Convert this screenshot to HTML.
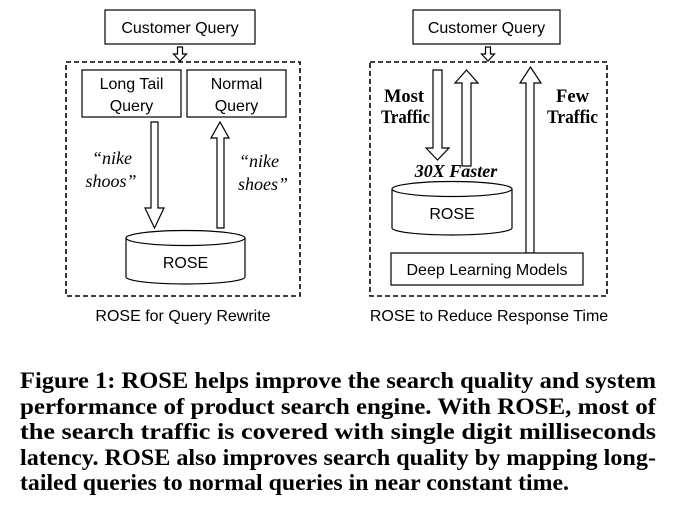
<!DOCTYPE html>
<html><head><meta charset="utf-8"><style>
html,body{margin:0;padding:0;background:#fff;}
svg{display:block;}
</style></head><body>
<svg width="684" height="521" viewBox="0 0 684 521" xmlns="http://www.w3.org/2000/svg">
<g fill="#fff" stroke="#000" stroke-width="1.2">
<rect x="105" y="10" width="150" height="34"/>
<path d="M177.5 47 h5 v7 h4 l-6.5 7 l-6.5 -7 h4 z"/>
<rect x="66" y="62" width="234" height="234" stroke-dasharray="5,3" stroke-width="1.6" fill="none"/>
<rect x="82" y="70" width="99" height="47"/>
<rect x="187" y="70" width="99" height="47"/>
<path d="M151 122 h7 v86 h6 l-9.5 20 l-9.5 -20 h6 z"/>
<path d="M217 228 h7 v-90 h5 l-9 -16 l-9 16 h6 z"/>
<path d="M126 238 v39 a59.5 7 0 0 0 119 0 v-39"/>
<ellipse cx="185.5" cy="238" rx="59.5" ry="7.5"/>
<rect x="413" y="10" width="147" height="34"/>
<path d="M485.5 47 h5 v7 h4 l-6.5 7 l-6.5 -7 h4 z"/>
<rect x="370" y="62" width="237" height="234" stroke-dasharray="5,3" stroke-width="1.6" fill="none"/>
<path d="M433 70 h9 v78 h7 l-11.5 12 l-11.5 -12 h7 z"/>
<path d="M462 166 h9 v-83 h7 l-11.5 -13 l-11.5 13 h7 z"/>
<path d="M392 189 v39 a60 7 0 0 0 120 0 v-39"/>
<ellipse cx="452" cy="189" rx="60" ry="7.5"/>
<path d="M526 253 h8 v-170 h7 l-10.5 -16 l-10.5 16 h6 z"/>
<rect x="391" y="253" width="192" height="32"/>
</g>
<g font-family="Liberation Sans, sans-serif" font-size="16" fill="#000" text-anchor="middle">
<text x="180" y="33">Customer Query</text>
<text x="131.5" y="89">Long Tail</text>
<text x="131.5" y="111">Query</text>
<text x="236.5" y="89">Normal</text>
<text x="236.5" y="111">Query</text>
<text x="185.5" y="268">ROSE</text>
<text x="183" y="321">ROSE for Query Rewrite</text>
<text x="486.5" y="33">Customer Query</text>
<text x="452" y="219">ROSE</text>
<text x="487" y="275">Deep Learning Models</text>
<text x="489" y="321">ROSE to Reduce Response Time</text>
</g>
<g font-family="Liberation Serif, serif" font-size="18" fill="#000">
<text x="112" y="164" font-style="italic" text-anchor="middle">“nike</text>
<text x="111" y="187" font-style="italic" text-anchor="middle">shoos”</text>
<text x="259" y="167" font-style="italic" text-anchor="middle">“nike</text>
<text x="263" y="190" font-style="italic" text-anchor="middle">shoes”</text>
<text x="384" y="102" font-weight="bold" font-size="19" textLength="40" lengthAdjust="spacingAndGlyphs">Most</text>
<text x="381" y="123" font-weight="bold" font-size="19" textLength="49" lengthAdjust="spacingAndGlyphs">Traffic</text>
<text x="556" y="102" font-weight="bold" font-size="19" textLength="33" lengthAdjust="spacingAndGlyphs">Few</text>
<text x="547" y="123" font-weight="bold" font-size="19" textLength="51" lengthAdjust="spacingAndGlyphs">Traffic</text>
<text x="456" y="177" font-weight="bold" font-style="italic" text-anchor="middle">30X Faster</text>
</g>
<g font-family="Liberation Serif, serif" font-size="23" font-weight="bold" fill="#000">
<text x="20" y="388" textLength="636" lengthAdjust="spacingAndGlyphs">Figure 1: ROSE helps improve the search quality and system</text>
<text x="20" y="414" textLength="636" lengthAdjust="spacingAndGlyphs">performance of product search engine. With ROSE, most of</text>
<text x="20" y="439" textLength="636" lengthAdjust="spacingAndGlyphs">the search traffic is covered with single digit milliseconds</text>
<text x="20" y="465" textLength="636" lengthAdjust="spacingAndGlyphs">latency. ROSE also improves search quality by mapping long-</text>
<text x="20" y="490" textLength="549" lengthAdjust="spacingAndGlyphs">tailed queries to normal queries in near constant time.</text>
</g>
</svg>
</body></html>
